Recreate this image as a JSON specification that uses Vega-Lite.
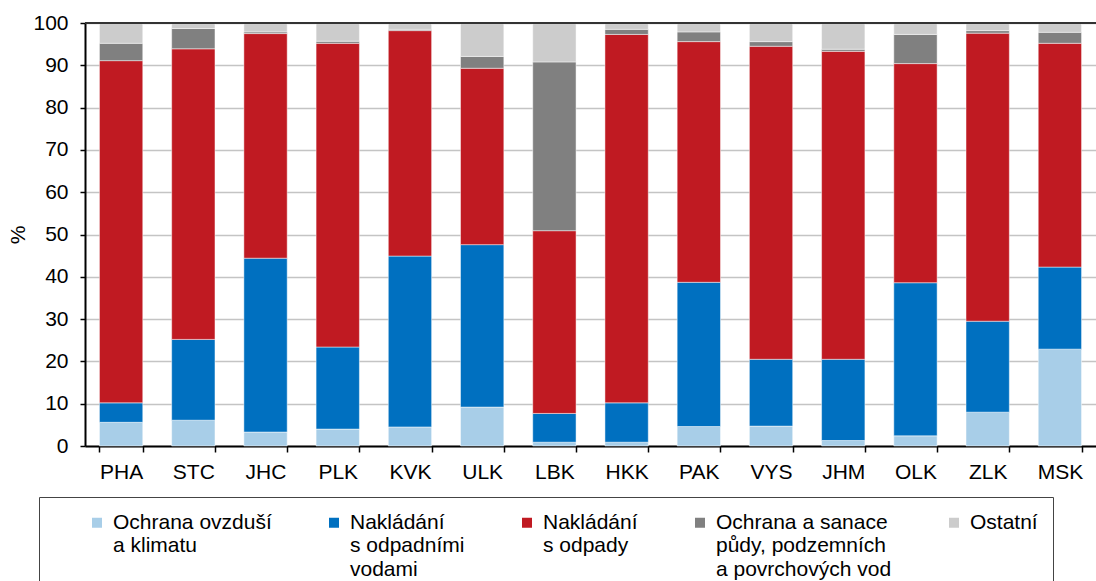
{
  "$schema": "https://vega.github.io/schema/vega-lite/v6.json",
  "width": 1011,
  "height": 423,
  "autosize": {"type": "none"},
  "padding": {"left": 85, "top": 23, "right": 0, "bottom": 135},
  "background": "white",
  "config": {
    "font": "Liberation Sans",
    "view": {"stroke": null},
    "style": {"guide-label": {"lineHeight": 23.5}}
  },
  "data": {
    "values": [
      {"kraj": "PHA", "kategorie": "Ochrana ovzduší a klimatu", "podil": 5.6, "poradi": 1},
      {"kraj": "PHA", "kategorie": "Nakládání s odpadními vodami", "podil": 4.6, "poradi": 2},
      {"kraj": "PHA", "kategorie": "Nakládání s odpady", "podil": 80.9, "poradi": 3},
      {"kraj": "PHA", "kategorie": "Ochrana a sanace půdy, podzemních a povrchových vod", "podil": 4.1, "poradi": 4},
      {"kraj": "PHA", "kategorie": "Ostatní", "podil": 4.8, "poradi": 5},
      {"kraj": "STC", "kategorie": "Ochrana ovzduší a klimatu", "podil": 6.1, "poradi": 1},
      {"kraj": "STC", "kategorie": "Nakládání s odpadními vodami", "podil": 19.1, "poradi": 2},
      {"kraj": "STC", "kategorie": "Nakládání s odpady", "podil": 68.7, "poradi": 3},
      {"kraj": "STC", "kategorie": "Ochrana a sanace půdy, podzemních a povrchových vod", "podil": 4.8, "poradi": 4},
      {"kraj": "STC", "kategorie": "Ostatní", "podil": 1.3, "poradi": 5},
      {"kraj": "JHC", "kategorie": "Ochrana ovzduší a klimatu", "podil": 3.3, "poradi": 1},
      {"kraj": "JHC", "kategorie": "Nakládání s odpadními vodami", "podil": 41.1, "poradi": 2},
      {"kraj": "JHC", "kategorie": "Nakládání s odpady", "podil": 53.1, "poradi": 3},
      {"kraj": "JHC", "kategorie": "Ochrana a sanace půdy, podzemních a povrchových vod", "podil": 0.4, "poradi": 4},
      {"kraj": "JHC", "kategorie": "Ostatní", "podil": 2.1, "poradi": 5},
      {"kraj": "PLK", "kategorie": "Ochrana ovzduší a klimatu", "podil": 4.0, "poradi": 1},
      {"kraj": "PLK", "kategorie": "Nakládání s odpadními vodami", "podil": 19.4, "poradi": 2},
      {"kraj": "PLK", "kategorie": "Nakládání s odpady", "podil": 71.8, "poradi": 3},
      {"kraj": "PLK", "kategorie": "Ochrana a sanace půdy, podzemních a povrchových vod", "podil": 0.5, "poradi": 4},
      {"kraj": "PLK", "kategorie": "Ostatní", "podil": 4.3, "poradi": 5},
      {"kraj": "KVK", "kategorie": "Ochrana ovzduší a klimatu", "podil": 4.5, "poradi": 1},
      {"kraj": "KVK", "kategorie": "Nakládání s odpadními vodami", "podil": 40.4, "poradi": 2},
      {"kraj": "KVK", "kategorie": "Nakládání s odpady", "podil": 53.3, "poradi": 3},
      {"kraj": "KVK", "kategorie": "Ochrana a sanace půdy, podzemních a povrchových vod", "podil": 0.3, "poradi": 4},
      {"kraj": "KVK", "kategorie": "Ostatní", "podil": 1.5, "poradi": 5},
      {"kraj": "ULK", "kategorie": "Ochrana ovzduší a klimatu", "podil": 9.2, "poradi": 1},
      {"kraj": "ULK", "kategorie": "Nakládání s odpadními vodami", "podil": 38.4, "poradi": 2},
      {"kraj": "ULK", "kategorie": "Nakládání s odpady", "podil": 41.7, "poradi": 3},
      {"kraj": "ULK", "kategorie": "Ochrana a sanace půdy, podzemních a povrchových vod", "podil": 2.8, "poradi": 4},
      {"kraj": "ULK", "kategorie": "Ostatní", "podil": 7.9, "poradi": 5},
      {"kraj": "LBK", "kategorie": "Ochrana ovzduší a klimatu", "podil": 0.9, "poradi": 1},
      {"kraj": "LBK", "kategorie": "Nakládání s odpadními vodami", "podil": 6.8, "poradi": 2},
      {"kraj": "LBK", "kategorie": "Nakládání s odpady", "podil": 43.2, "poradi": 3},
      {"kraj": "LBK", "kategorie": "Ochrana a sanace půdy, podzemních a povrchových vod", "podil": 39.9, "poradi": 4},
      {"kraj": "LBK", "kategorie": "Ostatní", "podil": 9.2, "poradi": 5},
      {"kraj": "HKK", "kategorie": "Ochrana ovzduší a klimatu", "podil": 0.9, "poradi": 1},
      {"kraj": "HKK", "kategorie": "Nakládání s odpadními vodami", "podil": 9.3, "poradi": 2},
      {"kraj": "HKK", "kategorie": "Nakládání s odpady", "podil": 87.1, "poradi": 3},
      {"kraj": "HKK", "kategorie": "Ochrana a sanace půdy, podzemních a povrchových vod", "podil": 1.2, "poradi": 4},
      {"kraj": "HKK", "kategorie": "Ostatní", "podil": 1.5, "poradi": 5},
      {"kraj": "PAK", "kategorie": "Ochrana ovzduší a klimatu", "podil": 4.6, "poradi": 1},
      {"kraj": "PAK", "kategorie": "Nakládání s odpadními vodami", "podil": 34.1, "poradi": 2},
      {"kraj": "PAK", "kategorie": "Nakládání s odpady", "podil": 56.9, "poradi": 3},
      {"kraj": "PAK", "kategorie": "Ochrana a sanace půdy, podzemních a povrchových vod", "podil": 2.3, "poradi": 4},
      {"kraj": "PAK", "kategorie": "Ostatní", "podil": 2.1, "poradi": 5},
      {"kraj": "VYS", "kategorie": "Ochrana ovzduší a klimatu", "podil": 4.7, "poradi": 1},
      {"kraj": "VYS", "kategorie": "Nakládání s odpadními vodami", "podil": 15.8, "poradi": 2},
      {"kraj": "VYS", "kategorie": "Nakládání s odpady", "podil": 74.0, "poradi": 3},
      {"kraj": "VYS", "kategorie": "Ochrana a sanace půdy, podzemních a povrchových vod", "podil": 1.1, "poradi": 4},
      {"kraj": "VYS", "kategorie": "Ostatní", "podil": 4.4, "poradi": 5},
      {"kraj": "JHM", "kategorie": "Ochrana ovzduší a klimatu", "podil": 1.3, "poradi": 1},
      {"kraj": "JHM", "kategorie": "Nakládání s odpadními vodami", "podil": 19.2, "poradi": 2},
      {"kraj": "JHM", "kategorie": "Nakládání s odpady", "podil": 72.8, "poradi": 3},
      {"kraj": "JHM", "kategorie": "Ochrana a sanace půdy, podzemních a povrchových vod", "podil": 0.5, "poradi": 4},
      {"kraj": "JHM", "kategorie": "Ostatní", "podil": 6.2, "poradi": 5},
      {"kraj": "OLK", "kategorie": "Ochrana ovzduší a klimatu", "podil": 2.4, "poradi": 1},
      {"kraj": "OLK", "kategorie": "Nakládání s odpadními vodami", "podil": 36.2, "poradi": 2},
      {"kraj": "OLK", "kategorie": "Nakládání s odpady", "podil": 51.8, "poradi": 3},
      {"kraj": "OLK", "kategorie": "Ochrana a sanace půdy, podzemních a povrchových vod", "podil": 6.9, "poradi": 4},
      {"kraj": "OLK", "kategorie": "Ostatní", "podil": 2.7, "poradi": 5},
      {"kraj": "ZLK", "kategorie": "Ochrana ovzduší a klimatu", "podil": 8.0, "poradi": 1},
      {"kraj": "ZLK", "kategorie": "Nakládání s odpadními vodami", "podil": 21.5, "poradi": 2},
      {"kraj": "ZLK", "kategorie": "Nakládání s odpady", "podil": 68.1, "poradi": 3},
      {"kraj": "ZLK", "kategorie": "Ochrana a sanace půdy, podzemních a povrchových vod", "podil": 0.6, "poradi": 4},
      {"kraj": "ZLK", "kategorie": "Ostatní", "podil": 1.8, "poradi": 5},
      {"kraj": "MSK", "kategorie": "Ochrana ovzduší a klimatu", "podil": 22.9, "poradi": 1},
      {"kraj": "MSK", "kategorie": "Nakládání s odpadními vodami", "podil": 19.4, "poradi": 2},
      {"kraj": "MSK", "kategorie": "Nakládání s odpady", "podil": 52.9, "poradi": 3},
      {"kraj": "MSK", "kategorie": "Ochrana a sanace půdy, podzemních a povrchových vod", "podil": 2.6, "poradi": 4},
      {"kraj": "MSK", "kategorie": "Ostatní", "podil": 2.2, "poradi": 5}
    ]
  },
  "layer": [
    {
      "mark": {"type": "bar", "stroke": "white", "strokeWidth": 0.8, "strokeOpacity": 0.6},
      "encoding": {
        "x": {
          "field": "kraj", "type": "nominal",
          "sort": ["PHA", "STC", "JHC", "PLK", "KVK", "ULK", "LBK", "HKK", "PAK", "VYS", "JHM", "OLK", "ZLK", "MSK"],
          "scale": {"paddingInner": 0.4, "paddingOuter": 0.2},
          "axis": {
            "title": null, "labelAngle": 0, "tickBand": "extent", "ticks": true,
            "tickSize": 6, "tickWidth": 1.5, "tickColor": "black",
            "domainColor": "black", "domainWidth": 2,
            "labelFont": "Liberation Sans", "labelFontSize": 21, "labelColor": "black", "labelPadding": 9,
            "grid": false
          }
        },
        "y": {
          "field": "podil", "type": "quantitative", "stack": "zero",
          "scale": {"domain": [0, 100], "nice": false},
          "axis": {
            "title": "%", "titleFont": "Liberation Sans", "titleFontSize": 21, "titleFontWeight": "normal", "titleColor": "black", "titlePadding": 4,
            "values": [0, 10, 20, 30, 40, 50, 60, 70, 80, 90, 100],
            "labelFont": "Liberation Sans", "labelFontSize": 21, "labelColor": "black", "labelPadding": 12,
            "tickSize": 5, "tickWidth": 1.5, "tickColor": "black",
            "domainColor": "black", "domainWidth": 2,
            "grid": true, "gridColor": "#c4c4c4", "gridWidth": 1.5
          }
        },
        "color": {
          "field": "kategorie", "type": "nominal",
          "scale": {
            "domain": ["Ochrana ovzduší a klimatu", "Nakládání s odpadními vodami", "Nakládání s odpady", "Ochrana a sanace půdy, podzemních a povrchových vod", "Ostatní"],
            "range": ["#a8cee8", "#0070c0", "#c01a22", "#808080", "#cccccc"]
          },
          "legend": {
            "orient": "none", "legendX": -46, "legendY": 474,
            "direction": "horizontal", "columns": 5,
            "title": null,
            "padding": 15, "strokeColor": "#444",
            "symbolType": "square", "symbolSize": 100, "symbolStrokeWidth": 0,
            "symbolOffset": 32.5, "labelOffset": 5.5, "columnPadding": 19,
            "labelFont": "Liberation Sans", "labelFontSize": 21, "labelColor": "black", "labelLimit": 400,
            "labelBaseline": "middle",
            "labelExpr": "datum.label == 'Ochrana ovzduší a klimatu' ? ['Ochrana ovzduší', 'a klimatu', ''] : datum.label == 'Nakládání s odpadními vodami' ? ['Nakládání', 's odpadními', 'vodami'] : datum.label == 'Nakládání s odpady' ? ['Nakládání', 's odpady', ''] : datum.label == 'Ochrana a sanace půdy, podzemních a povrchových vod' ? ['Ochrana a sanace', 'půdy, podzemních', 'a povrchových vod'] : [datum.label, '', '']"
          }
        },
        "order": {"field": "poradi", "type": "quantitative", "sort": "ascending"}
      }
    },
    {
      "data": {"values": [{}]},
      "mark": {"type": "rule", "color": "#333333", "strokeWidth": 2},
      "encoding": {"y": {"datum": 100}}
    }
  ]
}
